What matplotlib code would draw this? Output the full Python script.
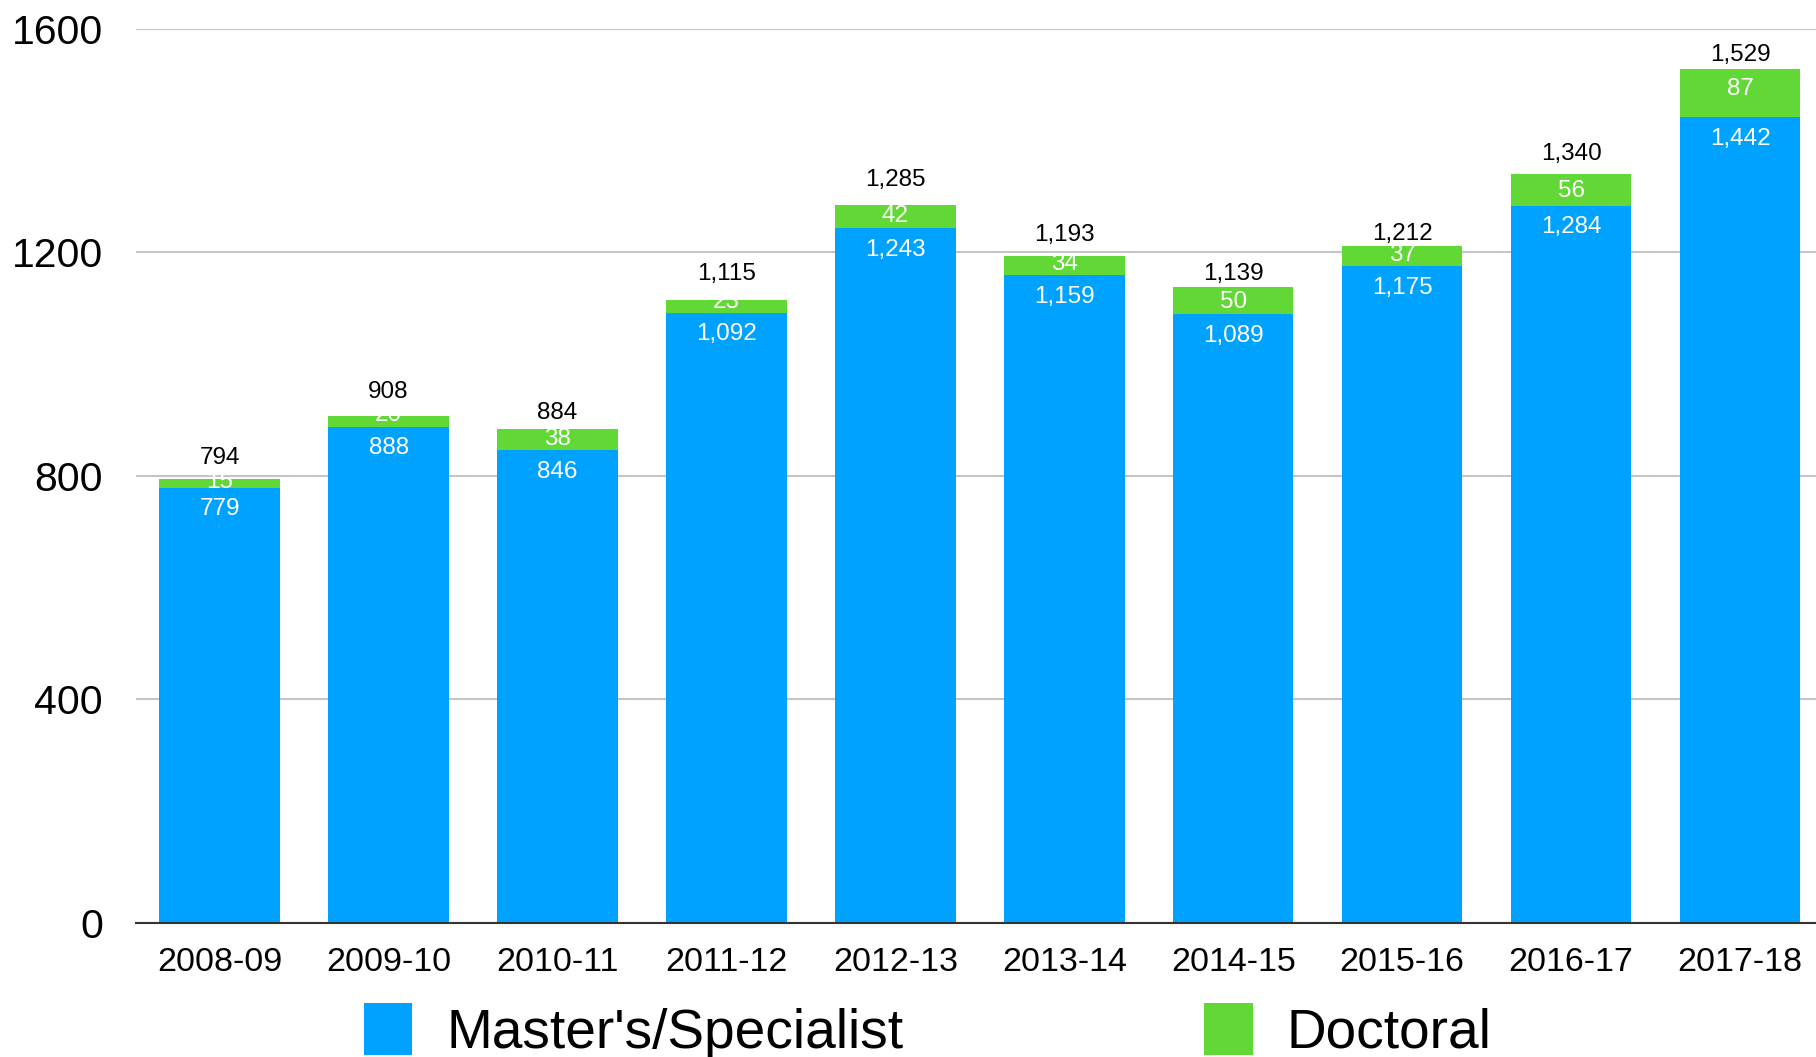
import matplotlib
matplotlib.use("Agg")
import matplotlib.pyplot as plt
import numpy as np

years = ["2008-09", "2009-10", "2010-11", "2011-12", "2012-13",
         "2013-14", "2014-15", "2015-16", "2016-17", "2017-18"]
masters = [779, 888, 846, 1092, 1243, 1159, 1089, 1175, 1284, 1442]
doctoral = [15, 20, 38, 23, 42, 34, 50, 37, 56, 87]
yticks = [0, 400, 800, 1200, 1600]

# label placement offsets (pixels) as seen in the original
total_gap_px = [21.5, 23.5, 16.5, 25.5, 24.5, 21.5, 12.5, 11.5, 20.5, 13.5]
doc_up_px = [2, 6.5, 1, 4, 0.8, 2.1, -1, 1, -1, 3.5]

BLUE = "#00A2FF"
GREEN = "#61D836"
DPI = 100
PX = 72.0 / DPI

plt.rcParams['font.family'] = ['Liberation Sans', 'DejaVu Sans']

fig = plt.figure(figsize=(18.16, 10.57), dpi=DPI)
ax = fig.add_axes([0.075, 0.1268, 0.925, 0.8458])

x = np.arange(len(years))
w = 0.713
b1 = ax.bar(x, masters, width=w, color=BLUE, zorder=2, label="Master's/Specialist")
b2 = ax.bar(x, doctoral, width=w, bottom=masters, color=GREEN, zorder=2, label="Doctoral")

ax.set_xlim(-0.494, len(years) - 1 + 0.45)
ax.set_ylim(0, 1600)
ax.set_yticks(yticks)
ax.set_yticklabels([str(t) for t in yticks])
ax.set_xticks(x)
ax.set_xticklabels(years)
ax.tick_params(axis='y', length=0, pad=24, labelsize=29.5)
ax.tick_params(axis='x', length=0, pad=17.3, labelsize=24.5)
ax.yaxis.grid(True, color="#c4c4c4", linewidth=1.5, zorder=0)
ax.set_axisbelow(True)
for s in ["top", "right", "left"]:
    ax.spines[s].set_visible(False)
ax.spines["bottom"].set_color("#333333")
ax.spines["bottom"].set_linewidth(1.5)
ax.spines["bottom"].set_zorder(3)

for i in range(len(years)):
    m = masters[i]
    d = doctoral[i]
    tot = m + d
    ax.annotate(f"{m:,}", (x[i], m), xytext=(0, -15.5), textcoords="offset points",
                ha="center", va="center", color="white", fontsize=17.5, zorder=4)
    ax.annotate(f"{d:,}", (x[i], m + d / 2), xytext=(0, doc_up_px[i] * PX),
                textcoords="offset points",
                ha="center", va="center", color="white", fontsize=17.5, zorder=4)
    ax.annotate(f"{tot:,}", (x[i], tot), xytext=(0, total_gap_px[i] * PX),
                textcoords="offset points",
                ha="center", va="center", color="black", fontsize=17.5, zorder=4)

fig.legend(handles=[b1, b2], labels=["Master's/Specialist", "Doctoral"],
           ncol=2, loc="center left", bbox_to_anchor=(0.2004, 0.0244),
           frameon=False, fontsize=39.6, handlelength=0.88, handleheight=1.07,
           handletextpad=0.62, columnspacing=5.47, borderpad=0, borderaxespad=0)

fig.savefig("out.png", dpi=DPI)
